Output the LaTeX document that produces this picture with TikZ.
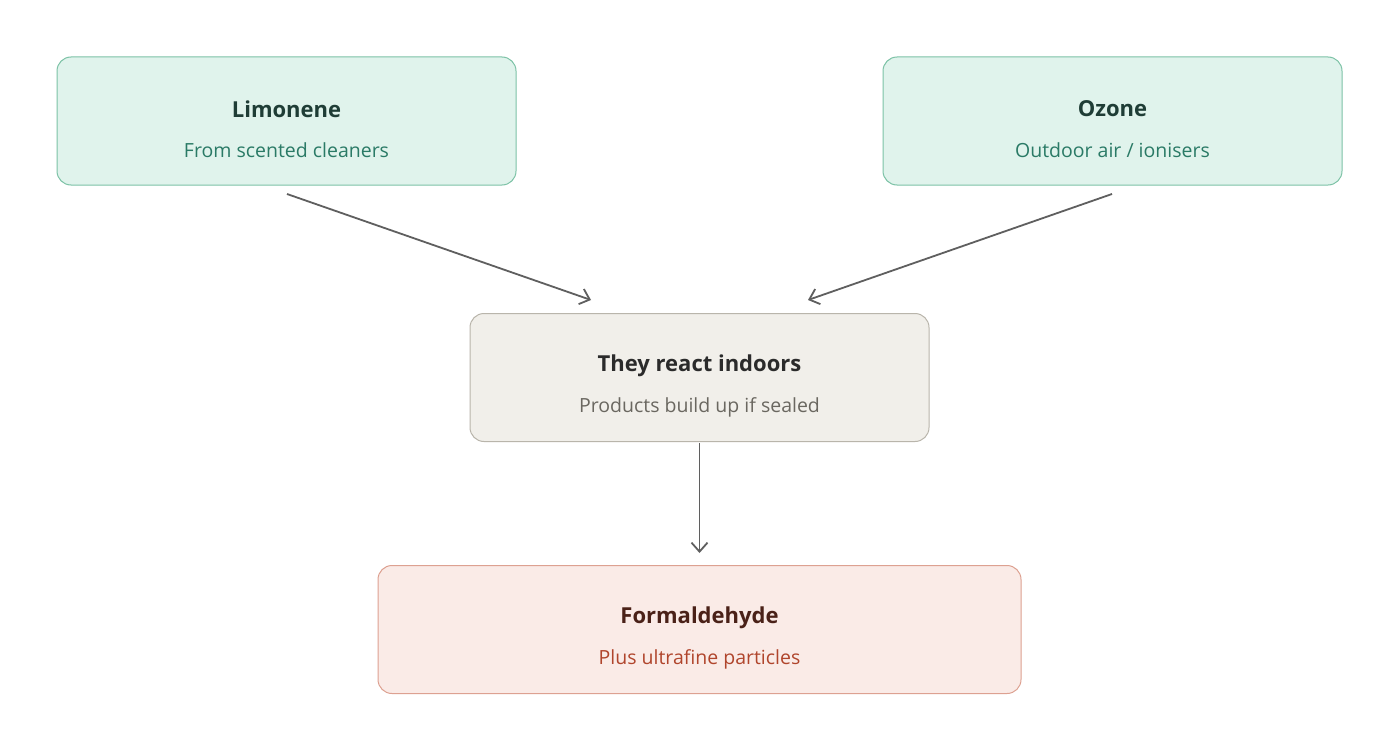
\documentclass[tikz,border=0pt]{standalone}
\usepackage{fontspec}
\setmainfont{Open Sans}
\usetikzlibrary{arrows.meta}
\definecolor{gfill}{HTML}{E0F3EC}\definecolor{gline}{HTML}{7CC2A6}
\definecolor{gtit}{HTML}{1F3D36}\definecolor{gsub}{HTML}{2A7A66}
\definecolor{bfill}{HTML}{F1EFEA}\definecolor{bline}{HTML}{B9B5AB}
\definecolor{btit}{HTML}{2B2B2B}\definecolor{bsub}{HTML}{6A6760}
\definecolor{pfill}{HTML}{FAEBE7}\definecolor{pline}{HTML}{DDA191}
\definecolor{ptit}{HTML}{4A2118}\definecolor{psub}{HTML}{B0452C}
\definecolor{arr}{HTML}{5F5F5F}
\begin{document}
\begin{tikzpicture}[x=1pt,y=-1pt,
 box/.style={draw,rounded corners=14pt,line width=1pt,minimum height=128pt,align=center},
 tit/.style={font=\fontsize{22}{26}\selectfont\bfseries},
 sub/.style={font=\fontsize{19.5}{24}\selectfont},
 con/.style={draw=arr,line width=1.8pt,-{Straight Barb[length=9pt,width=16pt]}}]
\useasboundingbox[fill=white] (0,0) rectangle (1400,752);
\node[box,fill=gfill,draw=gline,minimum width=459pt] (lim) at (286.5,121) {};
\node[tit,text=gtit] (limt) at (286.5,109) {Limonene};
\node[sub,text=gsub] (lims) at (286.5,150) {From scented cleaners};
\node[box,fill=gfill,draw=gline,minimum width=459pt] (oz) at (1112.5,121) {};
\node[tit,text=gtit] (ozt) at (1112.5,109) {Ozone};
\node[sub,text=gsub] (ozs) at (1112.5,150) {Outdoor air / ionisers};
\node[box,fill=bfill,draw=bline,minimum width=459pt] (re) at (699.5,377.5) {};
\node[tit,text=btit] (ret) at (699.5,366) {They react indoors};
\node[sub,text=bsub] (res) at (699.5,407) {Products build up if sealed};
\node[box,fill=pfill,draw=pline,minimum width=643pt] (fo) at (699.5,629.5) {};
\node[tit,text=ptit] (fot) at (699.5,618) {Formaldehyde};
\node[sub,text=psub] (fos) at (699.5,659) {Plus ultrafine particles};
\coordinate (a1) at (287,194); \coordinate (a2) at (591,300);
\coordinate (b1) at (1112,194); \coordinate (b2) at (808,300);
\coordinate (c1) at (699.5,443); \coordinate (c2) at (699.5,553);
\draw[con] (a1) -- (a2);
\draw[con] (b1) -- (b2);
\draw[con] (c1) -- (c2);
\end{tikzpicture}
\end{document}
